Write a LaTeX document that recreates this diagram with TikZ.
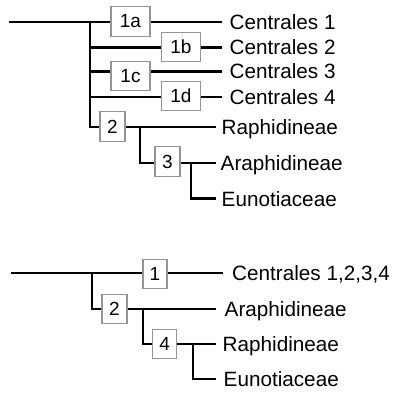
\documentclass[tikz,border=0pt]{standalone}
\usepackage{fontspec}
\setmainfont{Liberation Sans}
\begin{document}
\begin{tikzpicture}[x=1pt,y=-1pt,
  br/.style={line width=2.2pt, line cap=rect},
  bx/.style={draw=black!42, fill=white, line width=1.1pt, inner sep=0pt,
    minimum height=29.5pt, minimum width=25pt, font=\fontsize{19}{22}\selectfont},
  wbx/.style={bx, minimum width=39pt},
  lbl/.style={inner sep=0pt, anchor=base west, font=\fontsize{20.7}{24}\selectfont}]
\useasboundingbox (0,0) rectangle (396,393);
% ---------- top tree ----------
\coordinate (r0) at (10,22);
\coordinate (j0) at (90,22);
\coordinate (t1) at (221,22);
\coordinate (t2) at (221,47.5);
\coordinate (t3) at (221,71.5);
\coordinate (t4) at (221,97);
\coordinate (t5) at (215,127);
\coordinate (j1) at (140,127);
\coordinate (t6) at (215,163);
\coordinate (j2) at (191,163);
\coordinate (t7) at (215,198.5);
\draw[br] (r0) -- (t1);
\draw[br] (j0) |- (t5);
\draw[br] (j0 |- t2) -- (t2);
\draw[br] (j0 |- t3) -- (t3);
\draw[br] (j0 |- t4) -- (t4);
\draw[br] (j1) |- (t6);
\draw[br] (j2) |- (t7);
\node[wbx] (b1a) at (130.5,21.5) {1a};
\node[wbx] (b1b) at (181,47) {1b};
\node[wbx] (b1c) at (130.5,76) {1c};
\node[wbx] (b1d) at (181,96) {1d};
\node[bx] (b2) at (112.5,126.5) {2};
\node[bx] (b3) at (167.5,161.5) {3};
\node[lbl] (c1) at (229.5,29.5) {Centrales 1};
\node[lbl] (c2) at (229.5,55) {Centrales 2};
\node[lbl] (c3) at (229.5,79) {Centrales 3};
\node[lbl] (c4) at (229.5,104.5) {Centrales 4};
\node[lbl] (rap) at (221.5,134.5) {Raphidineae};
\node[lbl] (ara) at (220.5,170.5) {Araphidineae};
\node[lbl] (eun) at (221.5,206) {Eunotiaceae};
% ---------- bottom tree ----------
\coordinate (s0) at (12,273);
\coordinate (k0) at (92,273);
\coordinate (u1) at (222,273);
\coordinate (u2) at (215,309);
\coordinate (k1) at (143,309);
\coordinate (u3) at (215,344);
\coordinate (k2) at (193,344);
\coordinate (u4) at (215,379);
\draw[br] (s0) -- (u1);
\draw[br] (k0) |- (u2);
\draw[br] (k1) |- (u3);
\draw[br] (k2) |- (u4);
\node[bx, minimum width=24pt] (d1) at (155,274) {1};
\node[bx] (d2) at (114.5,309) {2};
\node[bx, minimum width=24pt] (d4) at (164.7,344) {4};
\node[lbl] (call) at (232,280.5) {Centrales 1,2,3,4};
\node[lbl] (ara2) at (224.5,316.5) {Araphidineae};
\node[lbl] (rap2) at (222.5,351.5) {Raphidineae};
\node[lbl] (eun2) at (223.5,386.5) {Eunotiaceae};
\end{tikzpicture}
\end{document}
